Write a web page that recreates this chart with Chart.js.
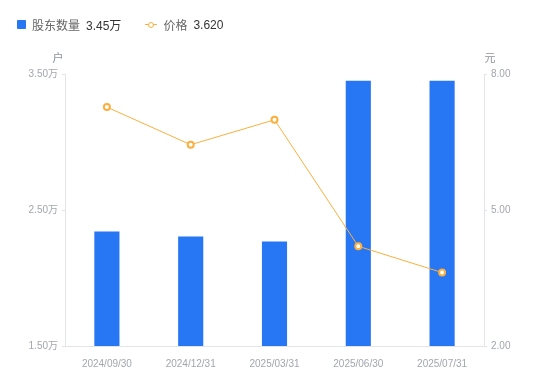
<!DOCTYPE html>
<html>
<head>
<meta charset="utf-8">
<script src="https://cdn.jsdelivr.net/npm/chart.js@4"></script>
<style>
  html, body { margin: 0; padding: 0; background: #fff; }
  #wrap { position: relative; width: 550px; height: 381px; }
  #legend { position: absolute; left: 17px; top: 16px; font: 12px "Liberation Sans", "Noto Sans CJK SC", sans-serif; color: #666; display: flex; align-items: center; }
  #legend .item { display: flex; align-items: center; margin-right: 24px; }
  #legend .sq { width: 9px; height: 9px; background: #2777F5; border-radius: 1px; margin-right: 6px; }
  #legend .ln { position: relative; width: 12px; height: 9px; margin-right: 6px; }
  #legend .ln:before { content: ""; position: absolute; left: 0; right: 0; top: 4px; height: 1px; background: #FCAF3C; }
  #legend .ln:after { content: ""; position: absolute; left: 3px; top: 1.5px; width: 4px; height: 4px; border: 1.5px solid #FCAF3C; border-radius: 50%; background: #fff; }
  #legend b { font-weight: normal; color: #333; margin-left: 6px; }
</style>
</head>
<body>
<div id="wrap">
  <div id="legend"></div>
  <canvas id="myChart" width="550" height="381"></canvas>
</div>
<script>
// dati
var dates = ["2024/09/30", "2024/12/31", "2025/03/31", "2025/06/30", "2025/07/31"];
var holders = [23420, 23060, 22690, 34500, 34500];
var prices = [7.27, 6.44, 6.99, 4.20, 3.62];
var leftTicks = [15000, 25000, 35000];
var rightTicks = [2, 5, 8];

var gray = "#A3A6AE";
var orange = "#FCAF3C";
var font = { family: "'Liberation Sans', 'Noto Sans CJK SC', sans-serif", size: 10 };

// legenda
document.getElementById("legend").innerHTML =
  '<div class="item"><span class="sq"></span>股东数量<b>' + (holders[holders.length - 1] / 10000).toFixed(2) + '万</b></div>' +
  '<div class="item"><span class="ln"></span>价格<b>' + prices[prices.length - 1].toFixed(3) + '</b></div>';

// unità sopra gli assi
var unitPlugin = {
  id: "units",
  afterDraw: function (chart) {
    var c = chart.ctx;
    var a = chart.chartArea;
    c.save();
    c.fillStyle = "#8E9199";
    c.font = "11px 'Noto Sans CJK SC', sans-serif";
    c.textBaseline = "middle";
    c.textAlign = "center";
    c.fillText("户", a.left - 7, a.top - 16);
    c.fillText("元", a.right + 6, a.top - 16);
    c.restore();
  }
};

var ctx = document.getElementById("myChart");
var myChart = new Chart(ctx, {
  type: "bar",
  data: {
    labels: dates,
    datasets: [
      {
        type: "line",
        label: "价格",
        data: prices,
        yAxisID: "y1",
        borderColor: orange,
        borderWidth: 1,
        pointRadius: 3,
        pointBorderWidth: 2,
        pointBackgroundColor: "#fff",
        pointBorderColor: orange,
        tension: 0,
        order: 0
      },
      {
        label: "股东数量",
        data: holders,
        yAxisID: "y",
        backgroundColor: "#2777F5",
        categoryPercentage: 1,
        barPercentage: 0.3,
        order: 1
      }
    ]
  },
  options: {
    responsive: false,
    animation: false,
    layout: { padding: { top: 74, bottom: 0, left: 0, right: 0 } },
    plugins: { legend: { display: false }, tooltip: { enabled: false } },
    scales: {
      x: {
        grid: { display: false },
        border: { display: true, color: "#E3E4E8" },
        ticks: { color: gray, font: font, padding: 4, maxRotation: 0 },
        afterFit: function (s) { s.height = 35; }
      },
      y: {
        position: "left",
        min: 15000,
        max: 35000,
        afterBuildTicks: function (s) { s.ticks = leftTicks.map(function (v) { return { value: v }; }); },
        grid: { drawOnChartArea: false, drawTicks: true, tickLength: 3, color: "#E3E4E8" },
        border: { display: true, color: "#E3E4E8" },
        ticks: {
          color: gray, font: font, padding: 4,
          callback: function (v) { return (v / 10000).toFixed(2) + "万"; }
        },
        afterFit: function (s) { s.width = 65; }
      },
      y1: {
        position: "right",
        min: 2,
        max: 8,
        afterBuildTicks: function (s) { s.ticks = rightTicks.map(function (v) { return { value: v }; }); },
        grid: { drawOnChartArea: false, drawTicks: true, tickLength: 3, color: "#E3E4E8" },
        border: { display: true, color: "#E3E4E8" },
        ticks: {
          color: gray, font: font, padding: 4,
          callback: function (v) { return v.toFixed(2); }
        },
        afterFit: function (s) { s.width = 66; }
      }
    }
  },
  plugins: [unitPlugin]
});
</script>
</body>
</html>
